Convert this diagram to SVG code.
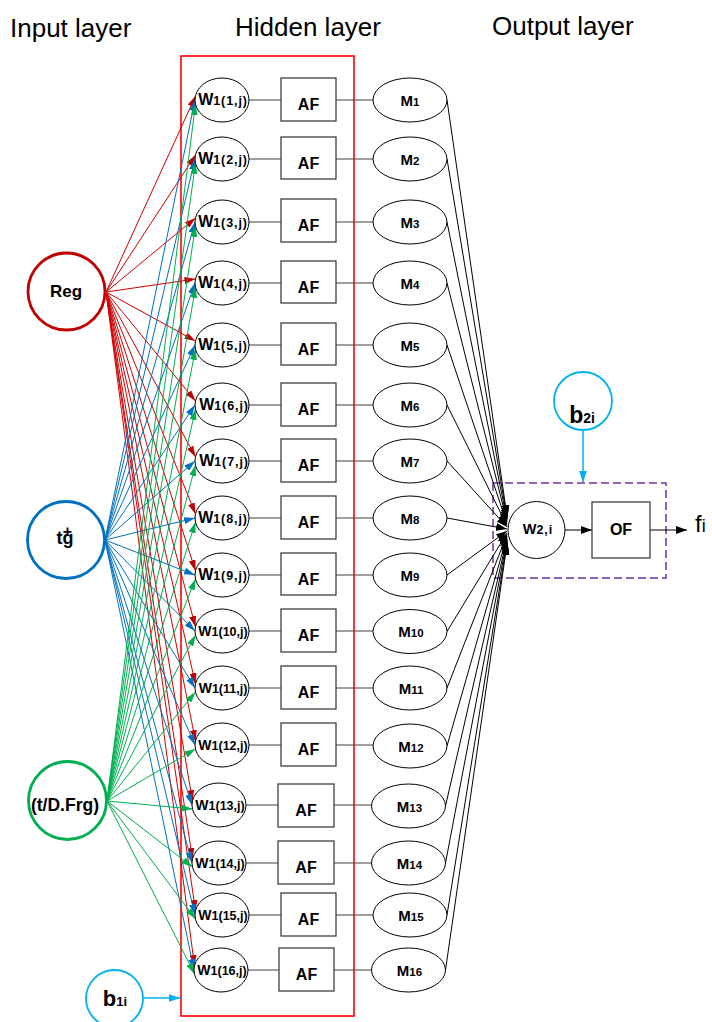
<svg xmlns="http://www.w3.org/2000/svg" width="712" height="1022" viewBox="0 0 712 1022">
  <style>
    text { font-family: "Liberation Sans", Arial, sans-serif; fill: #000; }
    .title { font-size: 26px; }
    .b { font-weight: bold; }
    .w { font-weight: bold; font-size: 16px; text-anchor: middle; }
    .w2 { font-weight: bold; font-size: 14px; text-anchor: middle; }
    .ws { font-size: 12.5px; letter-spacing: 0.9px; }
    .ws2 { font-size: 12.5px; }
    .m { font-weight: bold; font-size: 15px; text-anchor: middle; }
    .ms { font-size: 11.5px; }
    .af { font-weight: bold; font-size: 16px; text-anchor: middle; }
    .wn { fill: #fff; stroke: #000; stroke-width: 1; }
    .afb { fill: #fff; stroke: #404040; stroke-width: 1.3; }
    .hl { stroke: #404040; stroke-width: 1.2; fill: none; }
    .cr { stroke: #D00000; stroke-width: 1; fill: none; marker-end: url(#ahR); }
    .cb { stroke: #0070C0; stroke-width: 1; fill: none; marker-end: url(#ahB); }
    .cg { stroke: #00B050; stroke-width: 1; fill: none; marker-end: url(#ahG); }
    .ck { stroke: #000; stroke-width: 1; fill: none; marker-end: url(#ahK); }
    .cc { stroke: #00B0F0; stroke-width: 1.5; fill: none; marker-end: url(#ahC); }
  </style>
  <defs>
    <marker id="ahR" markerUnits="userSpaceOnUse" markerWidth="11" markerHeight="7" refX="11" refY="3.5" orient="auto"><path d="M0,0 L11,3.5 L0,7 z" fill="#C00000"/></marker>
    <marker id="ahB" markerUnits="userSpaceOnUse" markerWidth="11" markerHeight="7" refX="11" refY="3.5" orient="auto"><path d="M0,0 L11,3.5 L0,7 z" fill="#0070C0"/></marker>
    <marker id="ahG" markerUnits="userSpaceOnUse" markerWidth="11" markerHeight="7" refX="11" refY="3.5" orient="auto"><path d="M0,0 L11,3.5 L0,7 z" fill="#00B050"/></marker>
    <marker id="ahK" markerUnits="userSpaceOnUse" markerWidth="11" markerHeight="8" refX="11" refY="4" orient="auto"><path d="M0,0 L11,4 L0,8 z" fill="#000"/></marker>
    <marker id="ahC" markerUnits="userSpaceOnUse" markerWidth="12" markerHeight="8" refX="12" refY="4" orient="auto"><path d="M0,0 L12,4 L0,8 z" fill="#00B0F0"/></marker>
  </defs>

  <rect width="712" height="1022" fill="#fff"/>

  <!-- layer titles -->
  <text class="title" x="10" y="36.5">Input layer</text>
  <text class="title" x="235" y="36">Hidden layer</text>
  <text class="title" x="492" y="35">Output layer</text>

  <!-- hidden layer frame -->
  <rect id="hidden-frame" x="181" y="56" width="173" height="960" fill="none" stroke="#FF0000" stroke-width="1.6"/>

  <!-- output block frame -->
  <rect id="output-frame" x="493" y="483" width="173" height="95" fill="none" stroke="#7030A0" stroke-width="1.5" stroke-dasharray="8,4"/>

  <g id="connectors">
    <!-- W -> AF -> M links -->
    <g id="hidden-links">
      <path class="hl" d="M249,100 H281 M336,100 H373"/>
      <path class="hl" d="M249,159 H281 M336,159 H373"/>
      <path class="hl" d="M249,222 H281 M336,222 H373"/>
      <path class="hl" d="M249,283 H281 M336,283 H373"/>
      <path class="hl" d="M249,345 H281 M336,345 H373"/>
      <path class="hl" d="M249,405 H281 M336,405 H373"/>
      <path class="hl" d="M249,461 H281 M336,461 H373"/>
      <path class="hl" d="M249,518 H281 M336,518 H373"/>
      <path class="hl" d="M249,575 H281 M336,575 H373"/>
      <path class="hl" d="M249,631 H281 M336,631 H373"/>
      <path class="hl" d="M249,688 H281 M336,688 H373"/>
      <path class="hl" d="M249,745 H281 M336,745 H373"/>
      <path class="hl" d="M246,805 H278 M334,805 H371.5"/>
      <path class="hl" d="M246,863 H278 M334,863 H371.5"/>
      <path class="hl" d="M249,915 H281 M336,915 H373"/>
      <path class="hl" d="M248,970 H279 M334,970 H371.5"/>
    </g>

    <!-- Reg -> W1 -->
    <g id="reg-links">
      <path class="cr" d="M106,292 L195.5,96"/>
      <path class="cr" d="M106,292 L195.5,155"/>
      <path class="cr" d="M106,292 L195.5,218"/>
      <path class="cr" d="M106,292 L195.5,279"/>
      <path class="cr" d="M106,292 L195.5,341"/>
      <path class="cr" d="M106,292 L195.5,401"/>
      <path class="cr" d="M106,292 L195.5,457"/>
      <path class="cr" d="M106,292 L195.5,514"/>
      <path class="cr" d="M106,292 L195.5,571"/>
      <path class="cr" d="M106,292 L195.5,627"/>
      <path class="cr" d="M106,292 L195.5,684"/>
      <path class="cr" d="M106,292 L195.5,741"/>
      <path class="cr" d="M106,292 L192.5,801"/>
      <path class="cr" d="M106,292 L192.5,859"/>
      <path class="cr" d="M106,292 L195.5,911"/>
      <path class="cr" d="M106,292 L194.5,966"/>
    </g>

    <!-- tg+ -> W1 -->
    <g id="tg-links">
      <path class="cb" d="M105,540 L195,100"/>
      <path class="cb" d="M105,540 L195,159"/>
      <path class="cb" d="M105,540 L195,222"/>
      <path class="cb" d="M105,540 L195,283"/>
      <path class="cb" d="M105,540 L195,345"/>
      <path class="cb" d="M105,540 L195,405"/>
      <path class="cb" d="M105,540 L195,461"/>
      <path class="cb" d="M105,540 L195,518"/>
      <path class="cb" d="M105,540 L195,575"/>
      <path class="cb" d="M105,540 L195,631"/>
      <path class="cb" d="M105,540 L195,688"/>
      <path class="cb" d="M105,540 L195,745"/>
      <path class="cb" d="M105,540 L192,805"/>
      <path class="cb" d="M105,540 L192,863"/>
      <path class="cb" d="M105,540 L195,915"/>
      <path class="cb" d="M105,540 L194,970"/>
    </g>

    <!-- (t/D.Frg) -> W1 -->
    <g id="frg-links">
      <path class="cg" d="M107,801 L195.5,104"/>
      <path class="cg" d="M107,801 L195.5,163"/>
      <path class="cg" d="M107,801 L195.5,226"/>
      <path class="cg" d="M107,801 L195.5,287"/>
      <path class="cg" d="M107,801 L195.5,349"/>
      <path class="cg" d="M107,801 L195.5,409"/>
      <path class="cg" d="M107,801 L195.5,465"/>
      <path class="cg" d="M107,801 L195.5,522"/>
      <path class="cg" d="M107,801 L195.5,579"/>
      <path class="cg" d="M107,801 L195.5,635"/>
      <path class="cg" d="M107,801 L195.5,692"/>
      <path class="cg" d="M107,801 L195.5,749"/>
      <path class="cg" d="M107,801 L192.5,809"/>
      <path class="cg" d="M107,801 L192.5,867"/>
      <path class="cg" d="M107,801 L195.5,919"/>
      <path class="cg" d="M107,801 L194.5,974"/>
    </g>

    <!-- M -> W2 -->
    <g id="m-links">
      <path class="ck" d="M447,100 L507,516"/>
      <path class="ck" d="M447,159 L507,518"/>
      <path class="ck" d="M447,222 L507,520"/>
      <path class="ck" d="M447,283 L507,521.5"/>
      <path class="ck" d="M447,345 L507,523.5"/>
      <path class="ck" d="M447,405 L507,525.5"/>
      <path class="ck" d="M447,461 L507,527"/>
      <path class="ck" d="M447,518 L507,529"/>
      <path class="ck" d="M447,575 L507,531"/>
      <path class="ck" d="M447,631.5 L507,533"/>
      <path class="ck" d="M447,688 L507,534.5"/>
      <path class="ck" d="M447,746 L507,536.5"/>
      <path class="ck" d="M445.5,806 L507,538.5"/>
      <path class="ck" d="M445.5,863 L507,540"/>
      <path class="ck" d="M447,915 L507,542"/>
      <path class="ck" d="M445.5,970 L507,544"/>
    </g>

    <!-- output chain and biases -->
    <path class="ck" d="M565,530 H592"/>
    <path class="ck" d="M650,530 H687"/>
    <path class="cc" d="M583,430 V482.5"/>
    <path class="cc" d="M143,998 H180.5"/>
  </g>

  <!-- input nodes -->
  <g id="in-reg">
    <circle cx="66.5" cy="291.5" r="38.5" fill="#fff" stroke="#C00000" stroke-width="2.8"/>
    <text class="b" x="66" y="297" font-size="17" text-anchor="middle">Reg</text>
  </g>
  <g id="in-tg">
    <circle cx="66" cy="540" r="38.5" fill="#fff" stroke="#0070C0" stroke-width="2.8"/>
    <text class="b" x="65" y="543.5" font-size="18" text-anchor="middle">tg<tspan x="67.5" y="536.5" font-size="16">+</tspan></text>
  </g>
  <g id="in-frg">
    <circle cx="67.5" cy="800.5" r="39" fill="#fff" stroke="#00B050" stroke-width="2.8"/>
    <text class="b" x="65" y="811" font-size="17.5" text-anchor="middle">(t/D.Frg)</text>
  </g>
  <g id="bias-1">
    <circle cx="114.5" cy="998.5" r="28.5" fill="#fff" stroke="#00B0F0" stroke-width="1.8"/>
    <text class="b" x="115" y="1006" text-anchor="middle" font-size="22">b<tspan font-size="13">1i</tspan></text>
  </g>

  <!-- hidden neurons -->
  <g id="w1"><ellipse class="wn" cx="222" cy="100" rx="27" ry="22"/><text class="w" x="223" y="105">W<tspan class="ws">1(1,j)</tspan></text></g>
  <g id="w2"><ellipse class="wn" cx="222" cy="159" rx="27" ry="22"/><text class="w" x="223" y="164">W<tspan class="ws">1(2,j)</tspan></text></g>
  <g id="w3"><ellipse class="wn" cx="222" cy="222" rx="27" ry="22"/><text class="w" x="223" y="227">W<tspan class="ws">1(3,j)</tspan></text></g>
  <g id="w4"><ellipse class="wn" cx="222" cy="283" rx="27" ry="22"/><text class="w" x="223" y="288">W<tspan class="ws">1(4,j)</tspan></text></g>
  <g id="w5"><ellipse class="wn" cx="222" cy="345" rx="27" ry="22"/><text class="w" x="223" y="350">W<tspan class="ws">1(5,j)</tspan></text></g>
  <g id="w6"><ellipse class="wn" cx="222" cy="405" rx="27" ry="22"/><text class="w" x="224" y="410">W<tspan class="ws">1(6,j)</tspan></text></g>
  <g id="w7"><ellipse class="wn" cx="222" cy="461" rx="27" ry="22"/><text class="w" x="224" y="466">W<tspan class="ws">1(7,j)</tspan></text></g>
  <g id="w8"><ellipse class="wn" cx="222" cy="518" rx="27" ry="22"/><text class="w" x="223" y="523">W<tspan class="ws">1(8,j)</tspan></text></g>
  <g id="w9"><ellipse class="wn" cx="222" cy="575" rx="27" ry="22"/><text class="w" x="223" y="580">W<tspan class="ws">1(9,j)</tspan></text></g>
  <g id="w10"><ellipse class="wn" cx="222" cy="631" rx="27" ry="22"/><text class="w2" x="223" y="636">W<tspan class="ws2">1(10,j)</tspan></text></g>
  <g id="w11"><ellipse class="wn" cx="222" cy="688" rx="27" ry="22"/><text class="w2" x="223" y="693">W<tspan class="ws2">1(11,j)</tspan></text></g>
  <g id="w12"><ellipse class="wn" cx="222" cy="745" rx="27" ry="22"/><text class="w2" x="223" y="750">W<tspan class="ws2">1(12,j)</tspan></text></g>
  <g id="w13"><ellipse class="wn" cx="219" cy="805" rx="27" ry="22"/><text class="w2" x="220" y="810">W<tspan class="ws2">1(13,j)</tspan></text></g>
  <g id="w14"><ellipse class="wn" cx="219" cy="863" rx="27" ry="22"/><text class="w2" x="220" y="868">W<tspan class="ws2">1(14,j)</tspan></text></g>
  <g id="w15"><ellipse class="wn" cx="222" cy="915" rx="27" ry="22"/><text class="w2" x="223" y="920">W<tspan class="ws2">1(15,j)</tspan></text></g>
  <g id="w16"><ellipse class="wn" cx="221" cy="970" rx="27" ry="22"/><text class="w2" x="222" y="975">W<tspan class="ws2">1(16,j)</tspan></text></g>

  <!-- activation functions -->
  <g id="af1"><rect class="afb" x="281" y="78" width="55" height="43"/><text class="af" x="308.5" y="110">AF</text></g>
  <g id="af2"><rect class="afb" x="281" y="137" width="55" height="42"/><text class="af" x="308.5" y="169">AF</text></g>
  <g id="af3"><rect class="afb" x="281" y="199" width="55" height="43"/><text class="af" x="308.5" y="231">AF</text></g>
  <g id="af4"><rect class="afb" x="281" y="261" width="55" height="42"/><text class="af" x="308.5" y="293">AF</text></g>
  <g id="af5"><rect class="afb" x="281" y="323" width="55" height="42"/><text class="af" x="308.5" y="355">AF</text></g>
  <g id="af6"><rect class="afb" x="281" y="383" width="55" height="43"/><text class="af" x="308.5" y="415">AF</text></g>
  <g id="af7"><rect class="afb" x="281" y="439" width="55" height="43"/><text class="af" x="308.5" y="471">AF</text></g>
  <g id="af8"><rect class="afb" x="281" y="496" width="55" height="43"/><text class="af" x="308.5" y="528">AF</text></g>
  <g id="af9"><rect class="afb" x="281" y="553" width="55" height="42"/><text class="af" x="308.5" y="585">AF</text></g>
  <g id="af10"><rect class="afb" x="281" y="609" width="55" height="43"/><text class="af" x="308.5" y="641">AF</text></g>
  <g id="af11"><rect class="afb" x="281" y="666" width="55" height="43"/><text class="af" x="308.5" y="698">AF</text></g>
  <g id="af12"><rect class="afb" x="281" y="723" width="55" height="43"/><text class="af" x="308.5" y="755">AF</text></g>
  <g id="af13"><rect class="afb" x="278" y="784" width="56" height="43"/><text class="af" x="306" y="816">AF</text></g>
  <g id="af14"><rect class="afb" x="278" y="841" width="56" height="43"/><text class="af" x="306" y="873">AF</text></g>
  <g id="af15"><rect class="afb" x="281" y="893" width="55" height="43"/><text class="af" x="308.5" y="925">AF</text></g>
  <g id="af16"><rect class="afb" x="279" y="948" width="55" height="43"/><text class="af" x="306.5" y="980">AF</text></g>

  <!-- hidden outputs -->
  <g id="m1"><ellipse class="wn" cx="410" cy="100" rx="37" ry="22"/><text class="m" x="410" y="105.5">M<tspan class="ms">1</tspan></text></g>
  <g id="m2"><ellipse class="wn" cx="410" cy="159" rx="37" ry="22"/><text class="m" x="410" y="164.5">M<tspan class="ms">2</tspan></text></g>
  <g id="m3"><ellipse class="wn" cx="410" cy="222" rx="37" ry="22"/><text class="m" x="410" y="227.5">M<tspan class="ms">3</tspan></text></g>
  <g id="m4"><ellipse class="wn" cx="410" cy="283" rx="37" ry="22"/><text class="m" x="410" y="288.5">M<tspan class="ms">4</tspan></text></g>
  <g id="m5"><ellipse class="wn" cx="410" cy="345" rx="37" ry="22"/><text class="m" x="410" y="350.5">M<tspan class="ms">5</tspan></text></g>
  <g id="m6"><ellipse class="wn" cx="410" cy="405" rx="37" ry="22"/><text class="m" x="410" y="410.5">M<tspan class="ms">6</tspan></text></g>
  <g id="m7"><ellipse class="wn" cx="410" cy="461" rx="37" ry="22"/><text class="m" x="410" y="466.5">M<tspan class="ms">7</tspan></text></g>
  <g id="m8"><ellipse class="wn" cx="410" cy="518" rx="37" ry="22"/><text class="m" x="410" y="523.5">M<tspan class="ms">8</tspan></text></g>
  <g id="m9"><ellipse class="wn" cx="410" cy="575" rx="37" ry="22"/><text class="m" x="410" y="580.5">M<tspan class="ms">9</tspan></text></g>
  <g id="m10"><ellipse class="wn" cx="410" cy="631.5" rx="37" ry="22"/><text class="m" x="411" y="637">M<tspan class="ms">10</tspan></text></g>
  <g id="m11"><ellipse class="wn" cx="410" cy="688" rx="37" ry="22"/><text class="m" x="411" y="693.5">M<tspan class="ms">11</tspan></text></g>
  <g id="m12"><ellipse class="wn" cx="410" cy="746" rx="37" ry="22"/><text class="m" x="411" y="751.5">M<tspan class="ms">12</tspan></text></g>
  <g id="m13"><ellipse class="wn" cx="408.5" cy="806" rx="37" ry="22"/><text class="m" x="409.5" y="811.5">M<tspan class="ms">13</tspan></text></g>
  <g id="m14"><ellipse class="wn" cx="408.5" cy="863" rx="37" ry="22"/><text class="m" x="409.5" y="868.5">M<tspan class="ms">14</tspan></text></g>
  <g id="m15"><ellipse class="wn" cx="410" cy="915" rx="37" ry="22"/><text class="m" x="411" y="920.5">M<tspan class="ms">15</tspan></text></g>
  <g id="m16"><ellipse class="wn" cx="408.5" cy="970" rx="37" ry="22"/><text class="m" x="409.5" y="975.5">M<tspan class="ms">16</tspan></text></g>

  <!-- output layer -->
  <g id="w2i">
    <circle cx="536.5" cy="530" r="28.5" fill="#fff" stroke="#000" stroke-width="1"/>
    <text class="b" x="538" y="534" font-size="14.5" text-anchor="middle">W<tspan font-size="12.5" letter-spacing="1">2,i</tspan></text>
  </g>
  <g id="of">
    <rect x="592" y="502" width="58" height="56" fill="#fff" stroke="#404040" stroke-width="1.3"/>
    <text class="b" x="621" y="535" font-size="16" text-anchor="middle">OF</text>
  </g>
  <g id="bias-2">
    <circle cx="583" cy="401" r="29" fill="#fff" stroke="#00B0F0" stroke-width="1.8"/>
    <text class="b" x="582" y="422.5" text-anchor="middle" font-size="23">b<tspan font-size="14">2i</tspan></text>
  </g>
  <g id="out-f">
    <text x="695" y="532" font-size="24">f<tspan font-size="18">i</tspan></text>
  </g>
</svg>
